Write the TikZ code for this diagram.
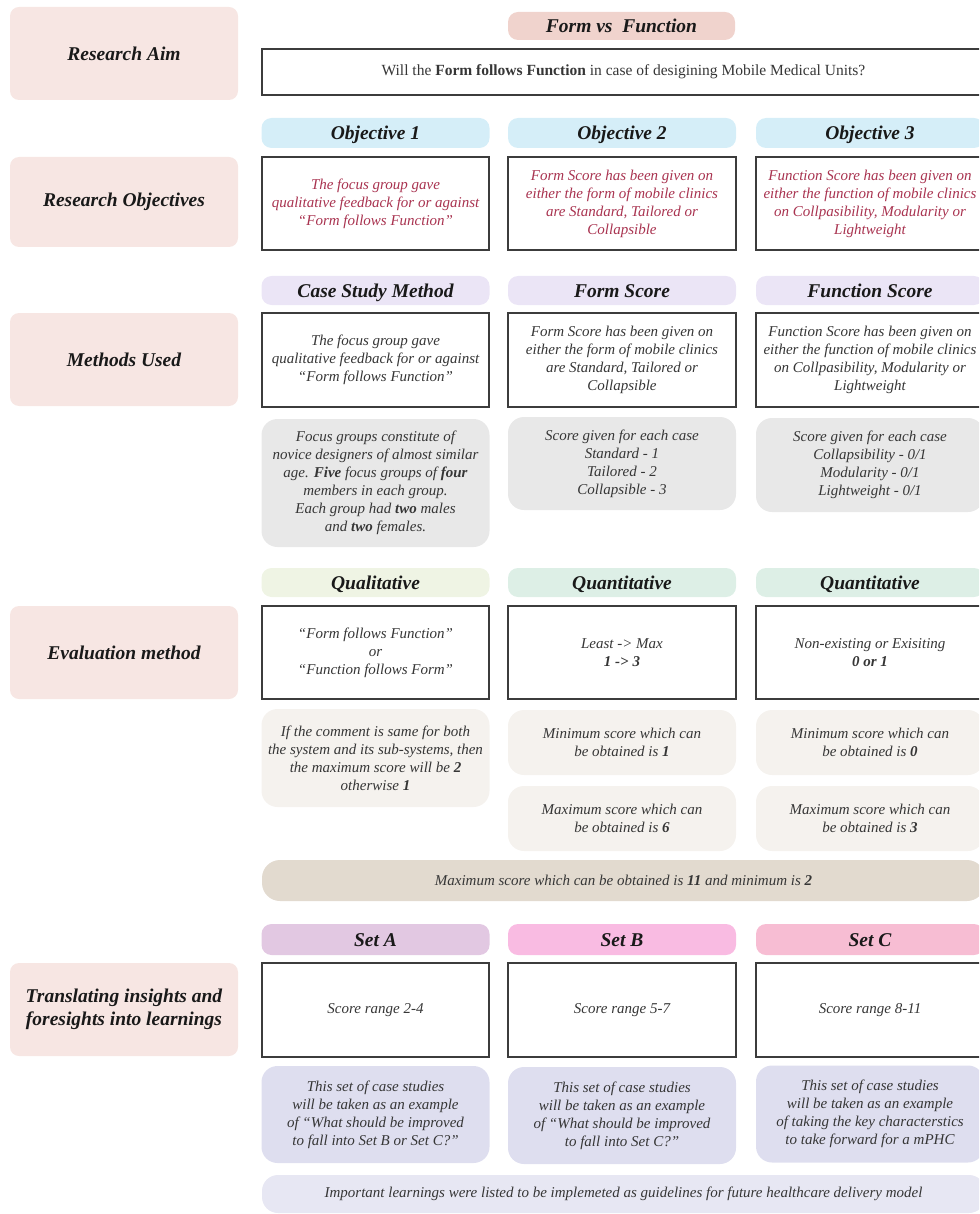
\documentclass[tikz,border=0pt]{standalone}
\usepackage{fontspec}
\setmainfont{Liberation Serif}
\definecolor{pinkL}{HTML}{F7E6E3}
\definecolor{formpill}{HTML}{F0D3CD}
\definecolor{bluepill}{HTML}{D5EEF8}
\definecolor{lavpill}{HTML}{EBE5F6}
\definecolor{grayb}{HTML}{E8E8E8}
\definecolor{qualpill}{HTML}{EFF4E4}
\definecolor{quantpill}{HTML}{DDEFE6}
\definecolor{beige}{HTML}{F5F2EE}
\definecolor{maxbar}{HTML}{E2DACF}
\definecolor{setA}{HTML}{E2C8E2}
\definecolor{setB}{HTML}{F9BBE2}
\definecolor{setC}{HTML}{F7BDD3}
\definecolor{lavbox}{HTML}{DEDEEF}
\definecolor{botbar}{HTML}{E7E7F3}
\definecolor{crim}{HTML}{A93350}
\definecolor{txt}{HTML}{363636}
\definecolor{boxline}{HTML}{3C3C3C}
\begin{document}
\begin{tikzpicture}[x=1pt,y=-1pt,
  base/.style={inner sep=0pt, align=center, font=\fontsize{15}{18}\selectfont\itshape, text=txt},
  lbl/.style={fill=pinkL, rounded corners=9pt, minimum width=228pt, minimum height=93pt, inner sep=0pt, align=center, font=\fontsize{19.5}{23}\selectfont\bfseries\itshape, text=black!90},
  pill/.style={rounded corners=10pt, minimum width=228pt, minimum height=30pt, inner sep=0pt, text height=14pt, text depth=0pt, font=\fontsize{19.5}{23}\selectfont\bfseries\itshape, text=black!90},
  wbox/.style={base, draw=boxline, line width=1.5pt, fill=white, minimum width=227pt, minimum height=93pt},
  rbox/.style={base, rounded corners=16pt, minimum width=228pt},
  objtxt/.style={text=crim}
]
\useasboundingbox (0,0) rectangle (979,1214);
\clip (0,0) rectangle (979,1214);
% left labels
\node[lbl] (aimL) at (124,53.5) {Research Aim};
\node[lbl, minimum height=90pt] (objL) at (124,202) {Research Objectives};
\node[lbl] (metL) at (124,359.5) {Methods Used};
\node[lbl] (evaL) at (124,652.5) {Evaluation method};
\node[lbl] (trnL) at (124,1009.5) {Translating insights and\\foresights into learnings};
% aim
\node[pill, fill=formpill, minimum width=227pt, minimum height=28pt] (fvf) at (621.5,26) {Form vs\enspace Function};
\node[wbox, minimum width=723pt, minimum height=46pt, font=\fontsize{15.5}{18}\selectfont\upshape] (aim) at (623.5,72) {Will the \textbf{Form follows Function} in case of desigining Mobile Medical Units?};
% objectives
\node[pill, fill=bluepill] (o1p) at (375.5,133) {Objective 1};
\node[pill, fill=bluepill] (o2p) at (622,133) {Objective 2};
\node[pill, fill=bluepill] (o3p) at (870,133) {Objective 3};
\node[wbox, objtxt] (o1) at (375.5,203.5) {The focus group gave\\qualitative feedback for or against\\``Form follows Function''};
\node[wbox, objtxt, minimum width=228pt] (o2) at (622,203.5) {Form Score has been given on\\either the form of mobile clinics\\are Standard, Tailored or\\Collapsible};
\node[wbox, objtxt, minimum width=228pt] (o3) at (870,203.5) {Function Score has been given on\\either the function of mobile clinics\\on Collpasibility, Modularity or\\Lightweight};
% methods
\node[pill, fill=lavpill, minimum height=29pt] (m1p) at (375.5,290.5) {Case Study Method};
\node[pill, fill=lavpill, minimum height=29pt] (m2p) at (622,290.5) {Form Score};
\node[pill, fill=lavpill, minimum height=29pt] (m3p) at (870,290.5) {Function Score};
\node[wbox, minimum height=94pt] (m1) at (375.5,360) {The focus group gave\\qualitative feedback for or against\\``Form follows Function''};
\node[wbox, minimum height=94pt, minimum width=228pt] (m2) at (622,360) {Form Score has been given on\\either the form of mobile clinics\\are Standard, Tailored or\\Collapsible};
\node[wbox, minimum height=94pt, minimum width=228pt] (m3) at (870,360) {Function Score has been given on\\either the function of mobile clinics\\on Collpasibility, Modularity or\\Lightweight};
\node[rbox, fill=grayb, minimum height=128pt] (g1) at (375.5,483) {Focus groups constitute of\\novice designers of almost similar\\age. \textbf{Five} focus groups of \textbf{four}\\members in each group.\\Each group had \textbf{two} males\\and \textbf{two} females.};
\node[rbox, fill=grayb, minimum height=93pt] (g2) at (622,463.5) {Score given for each case\\Standard - 1\\Tailored - 2\\Collapsible - 3};
\node[rbox, fill=grayb, minimum height=94pt] (g3) at (870,465) {Score given for each case\\Collapsibility - 0/1\\Modularity - 0/1\\Lightweight - 0/1};
% evaluation
\node[pill, fill=qualpill, minimum height=29pt] (e1p) at (375.5,582.5) {Qualitative};
\node[pill, fill=quantpill, minimum height=29pt] (e2p) at (622,582.5) {Quantitative};
\node[pill, fill=quantpill, minimum height=29pt] (e3p) at (870,582.5) {Quantitative};
\node[wbox] (e1) at (375.5,652.5) {``Form follows Function''\\or\\``Function follows Form''};
\node[wbox, minimum width=228pt] (e2) at (622,652.5) {Least -> Max\\\textbf{1 -> 3}};
\node[wbox, minimum width=228pt] (e3) at (870,652.5) {Non-existing or Exisiting\\\textbf{0 or 1}};
\node[rbox, fill=beige, minimum height=98pt] (b1) at (375.5,758) {If the comment is same for both\\the system and its sub-systems, then\\the maximum score will be \textbf{2}\\otherwise \textbf{1}};
\node[rbox, fill=beige, minimum height=65pt] (b2) at (622,742.5) {Minimum score which can\\be obtained is \textbf{1}};
\node[rbox, fill=beige, minimum height=65pt] (b3) at (622,818.5) {Maximum score which can\\be obtained is \textbf{6}};
\node[rbox, fill=beige, minimum height=65pt] (b4) at (870,742.5) {Minimum score which can\\be obtained is \textbf{0}};
\node[rbox, fill=beige, minimum height=65pt] (b5) at (870,818.5) {Maximum score which can\\be obtained is \textbf{3}};
\node[rbox, fill=maxbar, minimum width=723pt, minimum height=41pt, rounded corners=18pt] (mx) at (623.5,880.5) {Maximum score which can be obtained is \textbf{11} and minimum is \textbf{2}};
% sets
\node[pill, fill=setA, minimum height=31pt] (s1p) at (375.5,939.5) {Set A};
\node[pill, fill=setB, minimum height=31pt] (s2p) at (622,939.5) {Set B};
\node[pill, fill=setC, minimum height=31pt] (s3p) at (870,939.5) {Set C};
\node[wbox, minimum height=94pt] (s1) at (375.5,1010) {Score range 2-4};
\node[wbox, minimum height=94pt, minimum width=228pt] (s2) at (622,1010) {Score range 5-7};
\node[wbox, minimum height=94pt, minimum width=228pt] (s3) at (870,1010) {Score range 8-11};
\node[rbox, fill=lavbox, minimum height=97pt] (l1) at (375.5,1114.5) {This set of case studies\\will be taken as an example\\of ``What should be improved\\to fall into Set B or Set C?''};
\node[rbox, fill=lavbox, minimum height=97pt] (l2) at (622,1115.5) {This set of case studies\\will be taken as an example\\of ``What should be improved\\to fall into Set C?''};
\node[rbox, fill=lavbox, minimum height=97pt] (l3) at (870,1114) {This set of case studies\\will be taken as an example\\of taking the key characterstics\\to take forward for a mPHC};
\node[rbox, fill=botbar, minimum width=723pt, minimum height=38pt, rounded corners=16pt] (bb) at (623.5,1194) {Important learnings were listed to be implemeted as guidelines for future healthcare delivery model};
\end{tikzpicture}
\end{document}
